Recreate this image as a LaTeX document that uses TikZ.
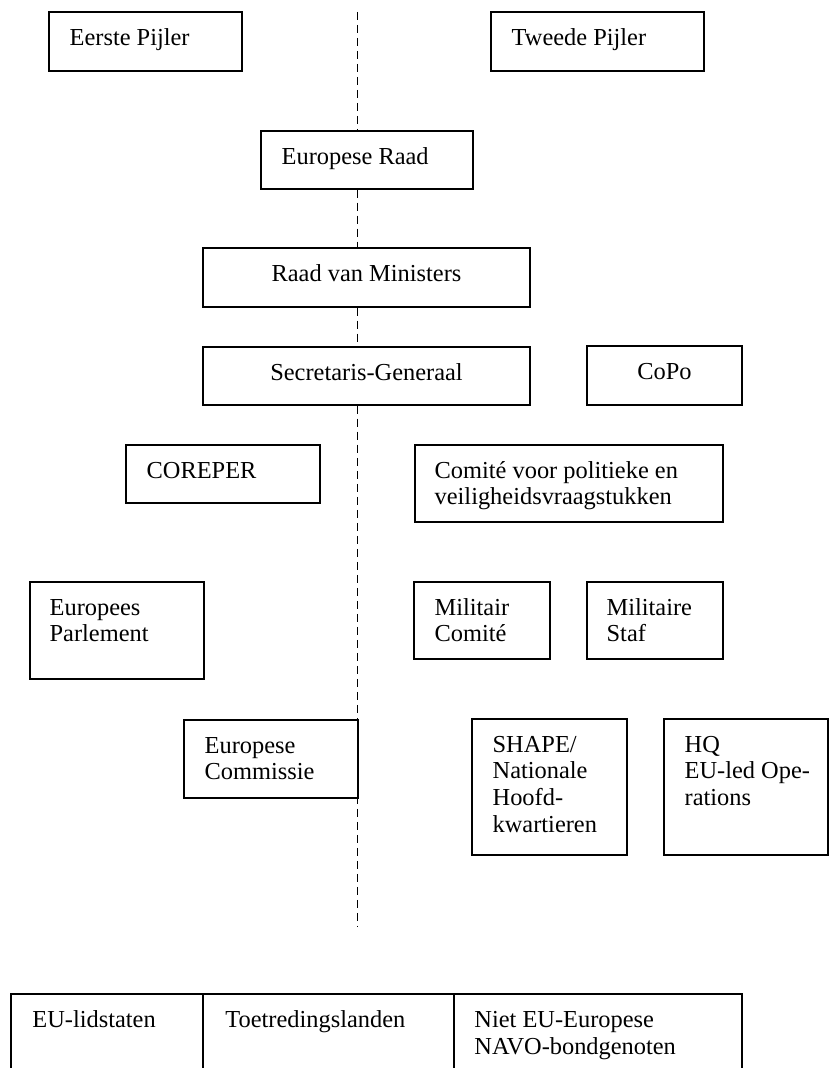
\documentclass[tikz,border=0pt]{standalone}
\usepackage{fontspec}
\setmainfont{Liberation Serif}
\usetikzlibrary{fit}
\begin{document}
\begin{tikzpicture}[x=0.5pt,y=-0.5pt,
  orgbox/.style={draw, line width=0.75pt, fill=white, inner sep=0pt, rectangle},
  lbl/.style={inner sep=0pt, align=left, font=\fontsize{12.2}{13.35}\selectfont},
  clbl/.style={inner sep=0pt, align=center, font=\fontsize{12.2}{13.35}\selectfont},
  divider/.style={dash pattern=on 4pt off 2.5pt, line width=0.7pt},
  tableline/.style={line width=0.75pt}]
\useasboundingbox (0,0) rectangle (829,1068);

% dashed divider end points
\coordinate (dtop) at (357.5,12);
\coordinate (dbot) at (357.5,927);

% boxes
\node[orgbox, fit={(49,12) (242,71)}] (eerste) {};
\node[orgbox, fit={(491,12) (704,71)}] (tweede) {};
\node[orgbox, fit={(261,131) (473,189)}] (eraad) {};
\node[orgbox, fit={(203,248) (530,307)}] (raad) {};
\node[orgbox, fit={(203,347) (530,405)}] (sec) {};
\node[orgbox, fit={(587,346) (742,405)}] (copo) {};
\node[orgbox, fit={(126,445) (320,503)}] (coreper) {};
\node[orgbox, fit={(415,445) (723,522)}] (comite) {};
\node[orgbox, fit={(30,582) (204,679)}] (parl) {};
\node[orgbox, fit={(414,582) (550,659)}] (milcom) {};
\node[orgbox, fit={(587,582) (723,659)}] (milstaf) {};
\node[orgbox, fit={(472,719) (627,855)}] (shape) {};
\node[orgbox, fit={(664,719) (828,855)}] (hq) {};

% dashed divider between the boxes on the axis
\draw[divider] (dtop) -- (eraad.north -| dtop);
\draw[divider] (eraad.south -| dtop) -- (raad.north -| dtop);
\draw[divider] (raad.south -| dtop) -- (sec.north -| dtop);
\draw[divider] (sec.south -| dtop) -- (dbot);

\node[orgbox, fit={(184,720) (358,798)}] (comm) {};

% labels
\node[lbl, anchor=north west] (eerste-t) at ([shift={(10.5pt,-7.35pt)}]eerste.north west) {\strut Eerste Pijler};
\node[lbl, anchor=north west] (tweede-t) at ([shift={(10.5pt,-7.35pt)}]tweede.north west) {\strut Tweede Pijler};
\node[lbl, anchor=north west] (eraad-t) at ([shift={(10.5pt,-7.35pt)}]eraad.north west) {\strut Europese Raad};
\node[clbl, anchor=north] (raad-t) at ([yshift=-7.35pt]raad.north) {\strut Raad van Ministers};
\node[clbl, anchor=north] (sec-t) at ([yshift=-7.35pt]sec.north) {\strut Secretaris-Generaal};
\node[clbl, anchor=north] (copo-t) at ([yshift=-7.35pt]copo.north) {\strut CoPo};
\node[lbl, anchor=north west] (coreper-t) at ([shift={(10.5pt,-7.35pt)}]coreper.north west) {\strut COREPER};
\node[lbl, anchor=north west] (comite-t) at ([shift={(10pt,-7.35pt)}]comite.north west) {\strut Comité voor politieke en\\veiligheidsvraagstukken};
\node[lbl, anchor=north west] (parl-t) at ([shift={(10pt,-7.35pt)}]parl.north west) {\strut Europees\\Parlement};
\node[lbl, anchor=north west] (milcom-t) at ([shift={(10.5pt,-7.35pt)}]milcom.north west) {\strut Militair\\Comité};
\node[lbl, anchor=north west] (milstaf-t) at ([shift={(10pt,-7.35pt)}]milstaf.north west) {\strut Militaire\\Staf};
\node[lbl, anchor=north west] (comm-t) at ([shift={(10.5pt,-7.35pt)}]comm.north west) {\strut Europese\\Commissie};
\node[lbl, anchor=north west] (shape-t) at ([shift={(10.5pt,-7.35pt)}]shape.north west) {\strut SHAPE/\\Nationale\\Hoofd-\\kwartieren};
\node[lbl, anchor=north west] (hq-t) at ([shift={(10.5pt,-7.35pt)}]hq.north west) {\strut HQ\\EU-led Ope-\\rations};

% table at the bottom (open at the lower edge)
\coordinate (t0) at (11,994);
\coordinate (t1) at (203,994);
\coordinate (t2) at (454,994);
\coordinate (t3) at (742,994);
\coordinate (b0) at (11,1068);
\coordinate (b1) at (203,1068);
\coordinate (b2) at (454,1068);
\coordinate (b3) at (742,1068);
\draw[tableline] (b0) -- (t0) -- (t3) -- (b3);
\draw[tableline] (t1) -- (b1);
\draw[tableline] (t2) -- (b2);
\node[lbl, anchor=north west] (cell1) at ([shift={(10.5pt,-7.35pt)}]t0) {\strut EU-lidstaten};
\node[lbl, anchor=north west] (cell2) at ([shift={(11pt,-7.35pt)}]t1) {\strut Toetredingslanden};
\node[lbl, anchor=north west] (cell3) at ([shift={(10pt,-7.35pt)}]t2) {\strut Niet EU-Europese\\NAVO-bondgenoten};
\end{tikzpicture}
\end{document}
